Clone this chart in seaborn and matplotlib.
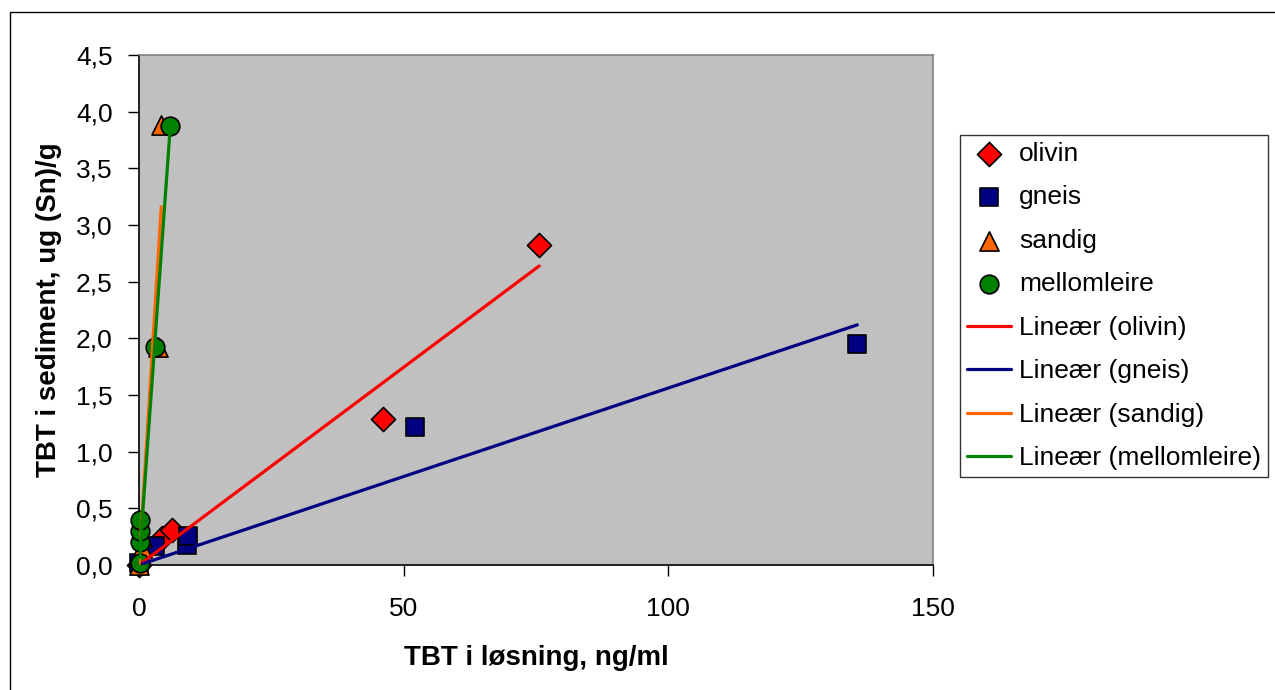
import numpy as np
import pandas as pd
import matplotlib
matplotlib.use("Agg")
import matplotlib.pyplot as plt
import seaborn as sns
from matplotlib.patches import Rectangle
from matplotlib.ticker import FuncFormatter, MultipleLocator

# TBT i løsning (ng/ml) and TBT i sediment (ug Sn/g)
olivin_x = [0.0, 4.3, 6.2, 46.1, 75.6]
olivin_y = [0.0, 0.24, 0.31, 1.29, 2.82]

gneis_x = [0.0, 3.1, 9.0, 9.3, 52.2, 135.7]
gneis_y = [0.02, 0.17, 0.18, 0.26, 1.22, 1.95]

sandig_x = [0.0, 0.5, 0.5, 3.6, 4.2]
sandig_y = [0.0, 0.15, 0.25, 1.92, 3.88]

mellomleire_x = [0.1, 0.1, 0.2, 0.2, 3.0, 5.9]
mellomleire_y = [0.02, 0.20, 0.30, 0.40, 1.92, 3.87]

series = ["olivin", "gneis", "sandig", "mellomleire"]
xs = [olivin_x, gneis_x, sandig_x, mellomleire_x]
ys = [olivin_y, gneis_y, sandig_y, mellomleire_y]
colors = ["#FF0000", "#000080", "#FF6600", "#008000"]
markers = ["D", "s", "^", "o"]
sizes = [150, 180, 190, 180]

sns.set_style("white")
plt.rcParams["font.family"] = ["Liberation Sans", "DejaVu Sans"]
plt.rcParams["text.color"] = "black"
plt.rcParams["axes.labelcolor"] = "black"
plt.rcParams["xtick.color"] = "black"
plt.rcParams["ytick.color"] = "black"

fig = plt.figure(figsize=(12.75, 6.9), dpi=100)
ax = fig.add_axes([139 / 1275, 1 - 565 / 690, 794 / 1275, 510 / 690])
ax.set_facecolor("#C0C0C0")

# outer chart frame (only top/left visible in the original crop)
fig.patches.append(Rectangle((10 / 1275, -0.05), 1.1, 1 - 12 / 690 + 0.05,
                             transform=fig.transFigure, fill=False,
                             edgecolor="black", linewidth=1.0, zorder=0))

for name, x, y, c, m, s in zip(series, xs, ys, colors, markers, sizes):
    df = pd.DataFrame({"x": x, "y": y})
    sns.scatterplot(data=df, x="x", y="y", ax=ax, marker=m, s=s, color=c,
                    edgecolor="black", linewidth=1.2, clip_on=False,
                    zorder=3, label=name)

for name, x, y, c in zip(series, xs, ys, colors):
    x = np.array(x)
    y = np.array(y)
    # linear trend through the origin, drawn over the data range
    slope = np.sum(x * y) / np.sum(x * x)
    fit = pd.DataFrame({"x": [x.min(), x.max()]})
    fit["y"] = slope * fit["x"]
    sns.lineplot(data=fit, x="x", y="y", ax=ax, color=c, linewidth=2.3,
                 zorder=4, label=f"Lineær ({name})")

ax.set_xlim(0, 150)
ax.set_ylim(0, 4.5)
ax.xaxis.set_major_locator(MultipleLocator(50))
ax.yaxis.set_major_locator(MultipleLocator(0.5))
ax.yaxis.set_major_formatter(FuncFormatter(lambda v, p: f"{v:.1f}".replace(".", ",")))

ax.tick_params(axis="both", which="major", direction="out", length=8,
               width=1, color="black", labelsize=19, left=True, bottom=True)
ax.tick_params(axis="x", pad=15)
ax.tick_params(axis="y", pad=11)

for side in ["left", "bottom"]:
    ax.spines[side].set_color("black")
    ax.spines[side].set_linewidth(1.2)
for side in ["top", "right"]:
    ax.spines[side].set_color("#808080")
    ax.spines[side].set_linewidth(1.2)

ax.set_xlabel("TBT i løsning, ng/ml", fontsize=20, fontweight="bold", labelpad=17)
ax.set_ylabel("TBT i sediment, ug (Sn)/g", fontsize=20, fontweight="bold", labelpad=10)

handles, labels = ax.get_legend_handles_labels()
leg = ax.legend(handles, labels, loc="upper left", bbox_to_anchor=(1.034, 0.843),
                borderaxespad=0, frameon=True, fancybox=False, fontsize=19,
                labelspacing=0.74, handlelength=1.7, handletextpad=0.3,
                borderpad=0.25)
leg.get_frame().set_edgecolor("black")
leg.get_frame().set_linewidth(1.0)

fig.savefig("out.png", dpi=100)
